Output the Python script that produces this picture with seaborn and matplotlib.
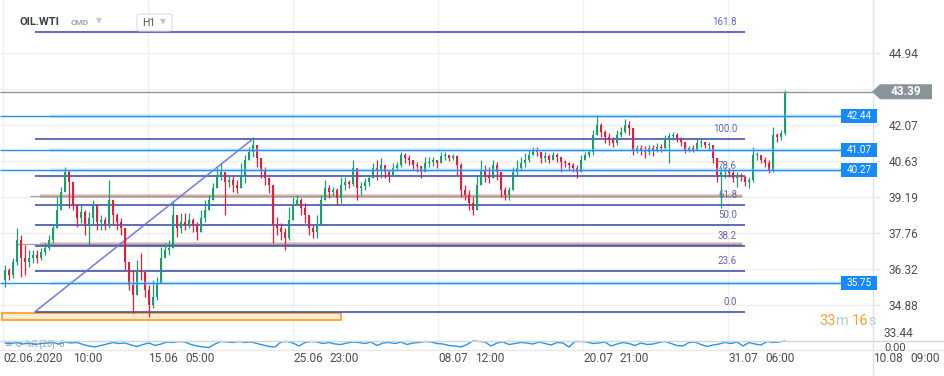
import numpy as np
import pandas as pd
import matplotlib
matplotlib.use("Agg")
import matplotlib.pyplot as plt
from matplotlib.patches import Rectangle, Polygon, FancyBboxPatch
from matplotlib.lines import Line2D
import seaborn as sns

# ---------------- data ----------------
first_open = 35.88
closes = [
    36.28, 36.08, 36.60, 37.48, 36.76, 36.60, 36.76, 36.88, 36.76, 37.00,
    37.16, 37.48, 37.96, 38.68, 39.40, 40.19, 39.79, 38.88, 38.36, 38.60,
    38.08, 38.36, 38.88, 38.20, 38.28, 38.08, 39.08, 38.48, 38.20, 37.96,
    36.60, 35.68, 35.28, 36.28, 36.20, 35.48, 34.88, 35.20, 35.76, 36.76,
    37.08, 37.16, 38.48, 37.96, 38.20, 38.08, 38.28, 38.08, 37.80, 38.36,
    38.68, 39.08, 39.56, 40.07, 40.19, 39.79, 39.87, 39.67, 39.56, 40.07,
    40.67, 40.99, 41.27, 40.75, 40.27, 39.95, 39.67, 38.08, 37.96, 37.80,
    37.56, 38.28, 38.88, 39.08, 38.76, 38.48, 37.96, 37.80, 38.08, 39.08,
    39.56, 39.40, 39.48, 39.16, 39.67, 39.79, 39.71, 40.35, 39.56, 39.63,
    39.79, 39.95, 40.35, 40.27, 40.47, 40.19, 40.07, 40.35, 40.47, 40.87,
    40.75, 40.67, 40.47, 40.43, 40.19, 40.55, 40.59, 40.67, 40.55, 40.83,
    40.87, 40.75, 40.83, 40.47, 39.48, 39.28, 38.96, 38.68, 39.67, 40.27,
    40.07, 39.95, 40.47, 40.19, 39.48, 39.28, 39.48, 40.19, 40.35, 40.55,
    40.67, 40.87, 41.07, 40.99, 40.75, 40.83, 40.67, 40.87, 40.79, 40.59,
    40.55, 40.47, 40.35, 40.19, 40.67, 40.87, 40.99, 41.67, 42.07, 41.79,
    41.59, 41.47, 41.35, 41.67, 41.79, 42.07, 41.95, 41.07, 41.15, 41.07,
    40.99, 41.15, 41.07, 41.19, 41.15, 41.47, 41.63, 41.67, 41.55, 41.39,
    41.07, 41.15, 41.07, 41.35, 41.39, 41.27, 41.27, 40.75, 40.07, 40.19,
    40.27, 40.15, 39.95, 40.03, 39.99, 39.79, 39.87, 40.87, 40.87, 40.67,
    40.55, 40.27, 41.67, 41.59, 41.75, 43.39,
]
highs = [
    36.48, 36.36, 36.76, 37.96, 37.68, 37.28, 37.08, 37.08, 37.08, 37.16,
    37.36, 37.68, 38.08, 39.20, 39.59, 40.39, 40.27, 39.67, 38.80, 38.88,
    38.68, 38.60, 39.08, 38.76, 38.48, 38.40, 39.87, 38.88, 38.56, 38.36,
    37.88, 36.60, 36.28, 36.68, 36.96, 36.08, 35.68, 35.88, 36.00, 37.20,
    37.36, 37.48, 39.00, 38.48, 38.56, 38.56, 38.56, 38.36, 38.20, 38.68,
    39.08, 39.28, 39.75, 40.39, 40.55, 40.07, 40.07, 40.03, 39.87, 40.55,
    40.87, 41.19, 41.59, 41.15, 40.67, 40.39, 39.99, 39.48, 38.40, 38.16,
    37.96, 38.80, 39.20, 39.28, 39.16, 38.96, 38.28, 38.08, 38.48, 39.28,
    39.87, 39.67, 39.59, 39.56, 39.99, 39.99, 39.87, 40.67, 40.03, 39.79,
    39.95, 40.07, 40.55, 40.67, 40.75, 40.47, 40.27, 40.55, 40.59, 40.99,
    40.95, 40.87, 40.67, 40.59, 40.43, 40.79, 40.79, 40.79, 40.67, 40.99,
    40.99, 40.87, 40.91, 40.87, 40.55, 39.67, 39.48, 39.20, 40.07, 40.67,
    40.47, 40.39, 40.67, 40.59, 40.15, 39.59, 39.59, 40.39, 40.67, 40.79,
    40.95, 41.07, 41.19, 41.19, 40.95, 40.99, 40.91, 40.99, 40.95, 40.79,
    40.67, 40.59, 40.55, 40.47, 40.87, 40.99, 41.07, 41.87, 42.47, 42.15,
    41.87, 41.75, 41.59, 41.87, 41.99, 42.31, 42.23, 41.87, 41.27, 41.27,
    41.23, 41.27, 41.27, 41.35, 41.31, 41.67, 41.75, 41.79, 41.75, 41.59,
    41.27, 41.23, 41.27, 41.55, 41.55, 41.39, 41.39, 41.27, 40.67, 40.39,
    40.39, 40.35, 40.27, 40.19, 40.15, 40.03, 39.99, 41.19, 40.99, 40.87,
    40.79, 40.67, 41.99, 41.75, 41.87, 43.47,
]
lows = [
    35.60, 35.88, 35.96, 36.48, 36.00, 36.08, 36.40, 36.56, 36.56, 36.68,
    36.88, 37.08, 37.36, 38.00, 39.08, 39.79, 38.76, 38.68, 38.00, 38.16,
    37.68, 37.28, 38.08, 37.88, 37.88, 37.88, 37.96, 38.08, 37.88, 37.68,
    36.28, 35.48, 34.56, 35.48, 35.88, 35.20, 34.40, 34.76, 35.08, 36.08,
    36.80, 36.88, 37.28, 37.60, 37.76, 37.88, 37.96, 37.80, 37.48, 37.80,
    38.20, 38.68, 39.08, 39.67, 39.87, 38.48, 39.59, 39.40, 39.36, 39.75,
    39.75, 40.67, 40.79, 40.39, 39.95, 39.67, 39.36, 37.36, 37.68, 37.48,
    37.08, 37.48, 38.48, 38.88, 38.48, 38.16, 37.68, 37.56, 37.56, 38.48,
    39.08, 39.16, 39.24, 38.88, 38.96, 39.48, 39.56, 39.63, 39.08, 39.28,
    39.48, 39.63, 39.95, 39.87, 39.95, 39.95, 39.79, 40.03, 40.27, 40.39,
    40.55, 40.47, 40.27, 40.19, 39.95, 40.19, 40.39, 40.43, 40.35, 40.55,
    40.67, 40.63, 40.67, 40.07, 39.20, 39.08, 38.68, 38.48, 38.68, 39.87,
    39.79, 39.75, 39.99, 39.87, 39.20, 39.08, 39.08, 39.48, 40.07, 40.27,
    40.39, 40.59, 40.87, 40.83, 40.55, 40.59, 40.55, 40.67, 40.59, 40.19,
    40.39, 40.27, 40.19, 39.95, 40.19, 40.67, 40.79, 40.87, 41.75, 41.59,
    41.35, 41.27, 41.19, 41.27, 41.59, 41.75, 41.67, 40.87, 40.95, 40.87,
    40.75, 40.87, 40.83, 40.99, 40.99, 41.07, 40.55, 41.47, 41.39, 41.23,
    40.95, 40.99, 40.99, 41.15, 41.19, 41.15, 41.07, 40.55, 39.79, 38.76,
    39.95, 39.99, 39.79, 39.59, 39.83, 39.63, 39.56, 39.79, 40.67, 40.55,
    40.39, 40.15, 40.19, 41.39, 41.47, 41.67,
]
williams_r = [
    -30, -35, -25, -40, -30, -45, -35, -30, -25, -40,
    -20, -30, -25, -45, -60, -70, -55, -40, -25, -35,
    -30, -50, -65, -45, -30, -55, -40, -20, -25, -15,
    -20, -45, -60, -70, -75, -40, -15, -20, -25, -15,
    -25, -20, -35, -50, -65, -70, -20, -15, -30, -60,
    -25, -15, -20, -35, -25, -40, -45, -30, -20, -25,
    -35, -20, -55, -30, -25, -35, -20, -45, -30, -25,
    -15, -20, -35, -40, -55, -60, -70, -45, -10, -15,
    -20, -60, -30, -20, -45, -35, -25, -30, -40, -20,
    -35, -50, -25, -30, -70, -15, -15, -20, -35, -30,
    -20, -60, -40, -25, -35, -55, -30, -45, -40, -25,
    -15, -35, -55, -60, -25, -20, -45, -65, -50, -40,
    -25, -35, -20, -60, -25, -40, -50, -15, -25, -20, -10,
]
tick_prices = [34.88, 36.32, 37.76, 39.19, 40.63, 42.07, 43.50, 44.94]
tick_labels = ["34.88", "36.32", "37.76", "39.19", "40.63", "42.07", "", "44.94"]
bottom_price_label = "33.44"
indicator_label = "0.00"
x_dates = ["02.06.2020", "15.06", "25.06", "08.07", "20.07", "31.07", "10.08"]
x_times = ["10:00", "05:00", "23:00", "12:00", "21:00", "06:00", "09:00"]
fib_low, fib_high = 34.61, 41.51
fib_levels = [0.0, 23.6, 38.2, 50.0, 61.8, 78.6, 100.0, 161.8]
blue_levels = [42.44, 41.07, 40.27, 35.75]
gray_levels = [39.24, 37.32]
last_price = 43.39
zone_low, zone_high = 34.29, 34.55
symbol, market, interval = "OIL.WTI", "CMD", "H1"
indicator_name = "≡ ⚙ %R [20] -6"
countdown = [("33", "o"), ("m", "g"), ("16", "o"), ("s", "g")]

# ---------------- style ----------------
sns.set_theme(style="white")
plt.rcParams["font.family"] = ["Roboto", "DejaVu Sans"]

GREEN = "#17a06b"
RED = "#e3203a"
FIB = "#3343ab"
FIBTXT = "#5d66b4"
BLUE = "#1f8ef5"
GRID = "#efefef"
TXT = "#4d4d4d"

W, H = 945, 376
fig = plt.figure(figsize=(W / 100, H / 100), dpi=100)
fig.patch.set_facecolor("white")


def fx(px):
    return px / W


def fy(py):
    return 1 - py / H


MAIN_BOTTOM = 341
PPX = 25.05                      # pixels per price unit
YMIN = 33.44
YMAX = YMIN + MAIN_BOTTOM / PPX


def py_of(price):
    return (YMAX - price) * PPX


ax = fig.add_axes([0, fy(MAIN_BOTTOM), fx(873), MAIN_BOTTOM / H])
PX0, STEP = 5, 4


def X(px):
    return (px - PX0) / STEP


ax.set_xlim(X(0), X(873))
ax.set_ylim(YMIN, YMAX)
for s in ax.spines.values():
    s.set_visible(False)
ax.patch.set_alpha(0)

grid_px = [3, 148, 293, 438, 583, 728]
for gx in grid_px:
    ax.axvline(X(gx), color=GRID, lw=1, zorder=0)

ax.yaxis.tick_right()
ax.set_yticks(tick_prices)
ax.set_yticklabels(tick_labels)
ax.tick_params(axis="y", length=5, width=1, color="#e6e6e6", pad=6,
               labelsize=8.6, labelcolor=TXT)
ax.tick_params(axis="x", bottom=False, labelbottom=False)
ax.grid(True, axis="y", color=GRID, lw=1, zorder=0)
ax.set_axisbelow(True)

# orange zone
ax.add_patch(Rectangle((X(2), zone_low), X(341) - X(2), zone_high - zone_low,
                       facecolor="#fdebd2", edgecolor="#ff9a1f", lw=1.2, zorder=2))

# gray / brown lines
ax.hlines(gray_levels[0], X(30), X(742), color="#a5a5a5", lw=1, zorder=2)
ax.hlines(gray_levels[0], X(40), X(742), color="#b36a6a", lw=2.6, alpha=0.4, zorder=2)
ax.hlines(gray_levels[1], X(17), X(742), color="#a5a5a5", lw=1, zorder=2)
ax.hlines(gray_levels[1], X(40), X(742), color="#b36a6a", lw=2.6, alpha=0.4, zorder=2)

# fibonacci
for lvl in fib_levels:
    p = fib_low + lvl / 100.0 * (fib_high - fib_low)
    ax.hlines(p, X(35), X(745), color=FIB, lw=1.1, zorder=3)
    ax.annotate(f"{lvl:.1f}", (X(737), p), xytext=(0, 3.5), textcoords="offset points",
                ha="right", va="bottom", fontsize=7, color=FIBTXT, zorder=3)
sns.lineplot(x=[X(35), X(253)], y=[fib_low, fib_high], ax=ax, color="#6b78da",
             lw=1.2, alpha=0.9, zorder=3)

# candles
n = len(closes)
opens = [first_open] + closes[:-1]
df = pd.DataFrame({"i": np.arange(n), "open": opens, "close": closes,
                   "high": highs, "low": lows})
up = df["close"] >= df["open"]
colors = np.where(up, GREEN, RED)
lo = df[["low", "open", "close"]].min(axis=1)
hi = df[["high", "open", "close"]].max(axis=1)
ax.vlines(df["i"], lo, hi, colors=colors, lw=0.9, zorder=4)
body_bottom = df[["open", "close"]].min(axis=1)
body_h = (df["close"] - df["open"]).abs().clip(lower=0.03)
ax.bar(df["i"], body_h, bottom=body_bottom, width=0.6, color=colors,
       linewidth=0, zorder=4)

# blue horizontal levels with value boxes
for lv in blue_levels:
    ax.hlines(lv, X(50), X(841), color="#90caf9", lw=3.0, alpha=0.3, zorder=5)
    ax.hlines(lv, X(0), X(841), color=BLUE, lw=1.0, zorder=5)
    yp = py_of(lv)
    fig.add_artist(Rectangle((fx(841), fy(yp + 7)), fx(36), 14 / H,
                             transform=fig.transFigure, facecolor="#1789fb",
                             edgecolor="none", zorder=6))
    fig.text(fx(859), fy(yp), f"{lv:.2f}", color="white", fontsize=7.2,
             ha="center", va="center", zorder=7)

# current price line + tag
ax.hlines(last_price, X(0), X(873), color="#8c959b", lw=1, zorder=5)
yp = py_of(last_price)
pts = [(872, yp), (880, yp - 7.5), (932, yp - 7.5), (932, yp + 7.5), (880, yp + 7.5)]
fig.add_artist(Polygon([(fx(a), fy(b)) for a, b in pts], closed=True,
                       transform=fig.transFigure, facecolor="#89939a",
                       edgecolor="none", zorder=6))
fig.text(fx(906), fy(yp), f"{last_price:.2f}", color="white", fontsize=8.6,
         fontweight="bold", ha="center", va="center", zorder=7)

# ---------------- indicator pane ----------------
ax2 = fig.add_axes([0, fy(351), fx(873), 13 / H])
ax2.set_xlim((0 - 5) / 6, (873 - 5) / 6)
ax2.set_ylim(-110, 20)
ax2.patch.set_alpha(0)
for s in ax2.spines.values():
    s.set_visible(False)
ax2.set_xticks([])
ax2.set_yticks([])
for gx in grid_px:
    ax2.axvline((gx - 5) / 6, color=GRID, lw=1, zorder=0)
ax2.text((5 - 5) / 6, -35, indicator_name, fontsize=6.5, color="#a0a0a0",
         va="center", ha="left", zorder=1)
sns.lineplot(x=np.arange(len(williams_r)), y=williams_r, ax=ax2,
             color="#2196f3", lw=1.0, zorder=3)

# separators
fig.add_artist(Line2D([0, 1], [fy(341), fy(341)], color="#d5d5d5", lw=1,
                      transform=fig.transFigure, zorder=1))
fig.add_artist(Line2D([0, 1], [fy(349.5), fy(349.5)], color="#e8e8e8", lw=1,
                      transform=fig.transFigure, zorder=1))
fig.add_artist(Line2D([fx(873), fx(873)], [0, 1], color="#e3e3e3", lw=1,
                      transform=fig.transFigure, zorder=1))

# right labels at the bottom
fig.text(fx(884), fy(333.5), bottom_price_label, fontsize=8.6, color=TXT,
         ha="left", va="center")
fig.text(fx(884), fy(348), indicator_label, fontsize=8.0, color=TXT,
         ha="left", va="center")

# x labels
for k, (d, t) in enumerate(zip(x_dates, x_times)):
    gx = grid_px[k] if k < len(grid_px) else 873
    fig.text(fx(gx + 0.5), fy(358), d, fontsize=8.6, color=TXT, ha="left", va="center")
    off = 70 if k == 0 else 37
    fig.text(fx(gx + off), fy(358), t, fontsize=8.6, color=TXT, ha="left", va="center")

# countdown
cx = {"33": 819, "m": 836, "16": 852, "s": 868}
for txt, c in countdown:
    fig.text(fx(cx[txt]), fy(325), txt, fontsize=10.5,
             color="#f7a23a" if c == "o" else "#c3c7cb", ha="left", va="baseline")

# header
fig.text(fx(20), fy(22), symbol, fontsize=8, fontweight="bold", color="#3a3f44",
         ha="left", va="center")
fig.text(fx(71), fy(22.5), market, fontsize=6, fontweight="bold", color="#9aa3ab",
         ha="left", va="center")
fig.text(fx(96), fy(21), "▼", fontsize=5.5, color="#c8c8c8", ha="left", va="center")
fig.add_artist(FancyBboxPatch((fx(137), fy(31)), fx(35), 17 / H,
                              boxstyle="round,pad=0,rounding_size=0.004",
                              transform=fig.transFigure, facecolor="white",
                              edgecolor="#dcdcdc", lw=0.8, zorder=6))
fig.text(fx(142), fy(22.5), interval, fontsize=7.5, color="#555555", ha="left",
         va="center", zorder=7)
fig.text(fx(160), fy(21.5), "▼", fontsize=5.5, color="#c8c8c8", ha="left",
         va="center", zorder=7)

fig.savefig("out.png", dpi=100, facecolor="white")
